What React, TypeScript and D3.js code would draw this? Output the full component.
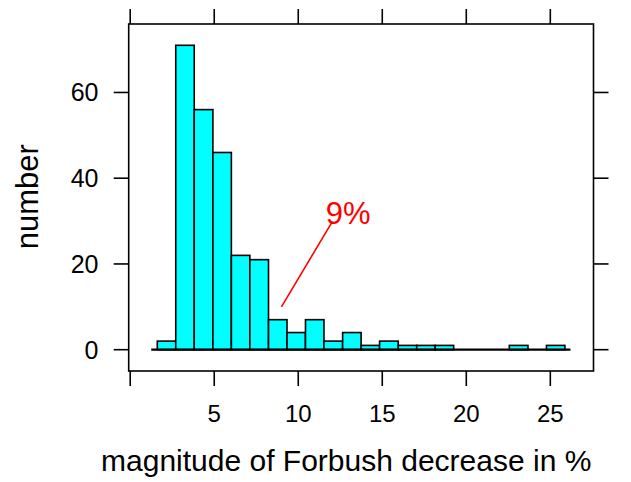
import React from "react";
import * as d3 from "d3";

// Histogram bin breaks (magnitude of Forbush decrease in %)
const breaks = [
  1.61, 2.71, 3.81, 4.92, 6.02, 7.12, 8.23, 9.33, 10.43, 11.53, 12.64, 13.74,
  14.84, 15.95, 17.05, 18.15, 19.25, 20.36, 21.46, 22.56, 23.67, 24.77, 25.87,
];
// Counts per bin
const counts = [2, 71, 56, 46, 22, 21, 7, 4, 7, 2, 4, 1, 2, 1, 1, 1, 0, 0, 0, 1, 0, 1];
const xTicks = [0, 5, 10, 15, 20, 25];
const xTickLabels = ["", "5", "10", "15", "20", "25"];
const yTicks = [0, 20, 40, 60];
const baseRange = [1.25, 26.2];
const annotation = { label: "9%", from: [9, 10], to: [12, 29.7] };

const W = 631;
const H = 482;
const box = { left: 128.7, right: 593.5, top: 24, bottom: 371 };

export default function App() {
  const x = d3.scaleLinear().domain([-0.09, 27.57]).range([box.left, box.right]);
  const y = d3.scaleLinear().domain([-4.97, 75.97]).range([box.bottom, box.top]);
  const font = "'Liberation Sans', Arial, Helvetica, sans-serif";
  const tickLen = 15;
  const lw = 1.6;

  return (
    <svg
      width={W}
      height={H}
      style={{ position: "absolute", left: 0, top: 0, background: "#fff" }}
      fontFamily={font}
    >
      <rect x={0} y={0} width={W} height={H} fill="#fff" />
      {/* bars */}
      {counts.map((c, i) => (
        <rect
          key={i}
          x={x(breaks[i])}
          y={y(c)}
          width={x(breaks[i + 1]) - x(breaks[i])}
          height={y(0) - y(c)}
          fill="#00FFFF"
          stroke="#000"
          strokeWidth={lw}
        />
      ))}
      {/* baseline */}
      <line
        x1={x(baseRange[0])}
        x2={x(baseRange[1])}
        y1={y(0)}
        y2={y(0)}
        stroke="#000"
        strokeWidth={2.2}
      />
      {/* annotation */}
      <line
        x1={x(annotation.from[0])}
        y1={y(annotation.from[1])}
        x2={x(annotation.to[0])}
        y2={y(annotation.to[1])}
        stroke="#FF0000"
        strokeWidth={1.6}
      />
      <text
        x={x(annotation.to[0]) - 6}
        y={y(annotation.to[1]) + 1.7}
        fill="#FF0000"
        fontSize={31}
      >
        {annotation.label}
      </text>
      {/* box */}
      <rect
        x={box.left}
        y={box.top}
        width={box.right - box.left}
        height={box.bottom - box.top}
        fill="none"
        stroke="#000"
        strokeWidth={lw}
      />
      {/* x ticks bottom & top */}
      {xTicks.map((t, i) => (
        <g key={"x" + t}>
          <line x1={x(t)} x2={x(t)} y1={box.bottom} y2={box.bottom + tickLen} stroke="#000" strokeWidth={lw} />
          <line x1={x(t)} x2={x(t)} y1={box.top} y2={box.top - tickLen} stroke="#000" strokeWidth={lw} />
          <text x={x(t)} y={421.7} textAnchor="middle" fontSize={24}>
            {xTickLabels[i]}
          </text>
        </g>
      ))}
      {/* y ticks left & right */}
      {yTicks.map((t) => (
        <g key={"y" + t}>
          <line x1={box.left} x2={box.left - tickLen} y1={y(t)} y2={y(t)} stroke="#000" strokeWidth={lw} />
          <line x1={box.right} x2={box.right + tickLen} y1={y(t)} y2={y(t)} stroke="#000" strokeWidth={lw} />
          <text x={98.5} y={y(t) + 9} textAnchor="end" fontSize={25}>
            {t}
          </text>
        </g>
      ))}
      {/* axis labels */}
      <text x={346.2} y={470.5} textAnchor="middle" fontSize={30}>
        magnitude of Forbush decrease in %
      </text>
      <text
        transform={`translate(38.3,196.7) rotate(-90)`}
        textAnchor="middle"
        fontSize={31}
      >
        number
      </text>
    </svg>
  );
}
